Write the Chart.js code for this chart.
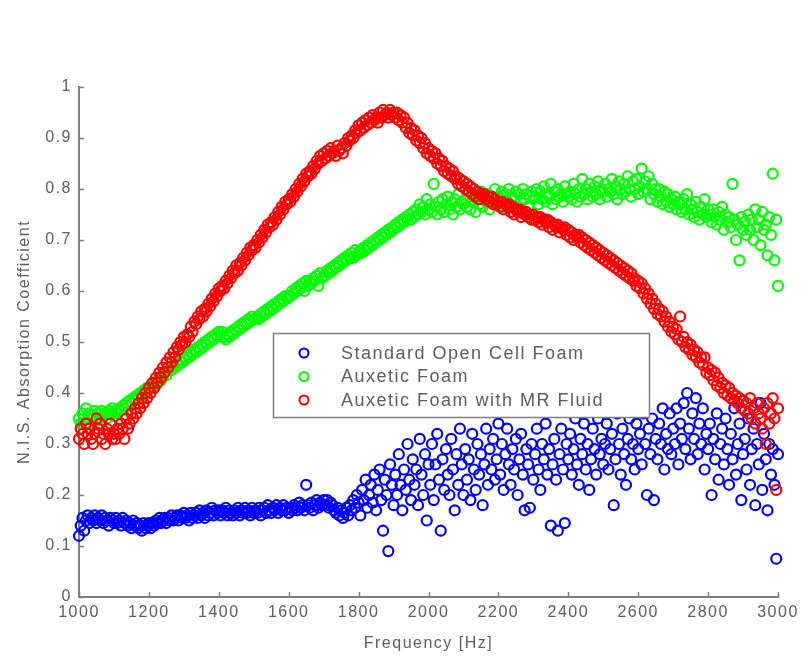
<!DOCTYPE html>
<html lang="en">
<head>
<meta charset="UTF-8" />
<title>N.I.S. Absorption Coefficient vs Frequency</title>
<script src="https://cdn.jsdelivr.net/npm/chart.js@4.4.1/dist/chart.umd.min.js"></script>
<style>
  html,body{margin:0;padding:0;background:#fff}
  #wrap{width:803px;height:657px}
</style>
</head>
<body>
<div id="wrap"><canvas id="chart" width="803" height="657"></canvas></div>
<script>
// frequency sampling (Hz) at 5 Hz spacing
const freq = [1000,
  1005,1010,1015,1020,1025,1030,1035,1040,1045,1050,1055,1060,1065,1070,1075,1080,1085,1090,1095,1100,
  1105,1110,1115,1120,1125,1130,1135,1140,1145,1150,1155,1160,1165,1170,1175,1180,1185,1190,1195,1200,
  1205,1210,1215,1220,1225,1230,1235,1240,1245,1250,1255,1260,1265,1270,1275,1280,1285,1290,1295,1300,
  1305,1310,1315,1320,1325,1330,1335,1340,1345,1350,1355,1360,1365,1370,1375,1380,1385,1390,1395,1400,
  1405,1410,1415,1420,1425,1430,1435,1440,1445,1450,1455,1460,1465,1470,1475,1480,1485,1490,1495,1500,
  1505,1510,1515,1520,1525,1530,1535,1540,1545,1550,1555,1560,1565,1570,1575,1580,1585,1590,1595,1600,
  1605,1610,1615,1620,1625,1630,1635,1640,1645,1650,1655,1660,1665,1670,1675,1680,1685,1690,1695,1700,
  1705,1710,1715,1720,1725,1730,1735,1740,1745,1750,1755,1760,1765,1770,1775,1780,1785,1790,1795,1800,
  1805,1810,1815,1820,1825,1830,1835,1840,1845,1850,1855,1860,1865,1870,1875,1880,1885,1890,1895,1900,
  1905,1910,1915,1920,1925,1930,1935,1940,1945,1950,1955,1960,1965,1970,1975,1980,1985,1990,1995,2000,
  2005,2010,2015,2020,2025,2030,2035,2040,2045,2050,2055,2060,2065,2070,2075,2080,2085,2090,2095,2100,
  2105,2110,2115,2120,2125,2130,2135,2140,2145,2150,2155,2160,2165,2170,2175,2180,2185,2190,2195,2200,
  2205,2210,2215,2220,2225,2230,2235,2240,2245,2250,2255,2260,2265,2270,2275,2280,2285,2290,2295,2300,
  2305,2310,2315,2320,2325,2330,2335,2340,2345,2350,2355,2360,2365,2370,2375,2380,2385,2390,2395,2400,
  2405,2410,2415,2420,2425,2430,2435,2440,2445,2450,2455,2460,2465,2470,2475,2480,2485,2490,2495,2500,
  2505,2510,2515,2520,2525,2530,2535,2540,2545,2550,2555,2560,2565,2570,2575,2580,2585,2590,2595,2600,
  2605,2610,2615,2620,2625,2630,2635,2640,2645,2650,2655,2660,2665,2670,2675,2680,2685,2690,2695,2700,
  2705,2710,2715,2720,2725,2730,2735,2740,2745,2750,2755,2760,2765,2770,2775,2780,2785,2790,2795,2800,
  2805,2810,2815,2820,2825,2830,2835,2840,2845,2850,2855,2860,2865,2870,2875,2880,2885,2890,2895,2900,
  2905,2910,2915,2920,2925,2930,2935,2940,2945,2950,2955,2960,2965,2970,2975,2980,2985,2990,2995,3000];

// Standard Open Cell Foam
const openCell = [0.12,
  0.14,0.155,0.13,0.15,0.16,0.145,0.155,0.15,0.16,0.145,0.155,0.15,0.16,0.145,0.155,0.15,0.14,0.155,0.15,0.145,
  0.155,0.145,0.15,0.14,0.155,0.145,0.15,0.14,0.145,0.135,0.15,0.14,0.145,0.135,0.14,0.13,0.145,0.135,0.14,0.145,
  0.135,0.145,0.14,0.15,0.145,0.155,0.145,0.15,0.155,0.145,0.155,0.15,0.16,0.15,0.155,0.16,0.15,0.16,0.155,0.165,
  0.155,0.16,0.15,0.165,0.155,0.16,0.165,0.155,0.17,0.16,0.165,0.155,0.17,0.16,0.165,0.175,0.16,0.17,0.165,0.17,
  0.16,0.17,0.165,0.175,0.16,0.17,0.165,0.16,0.17,0.165,0.175,0.16,0.17,0.165,0.175,0.165,0.17,0.16,0.175,0.165,
  0.17,0.165,0.175,0.16,0.17,0.175,0.165,0.18,0.17,0.165,0.175,0.17,0.18,0.165,0.175,0.17,0.18,0.17,0.175,0.165,
  0.175,0.17,0.18,0.175,0.17,0.185,0.175,0.18,0.17,0.22,0.18,0.175,0.185,0.17,0.18,0.19,0.175,0.185,0.18,0.19,
  0.18,0.19,0.175,0.185,0.18,0.17,0.165,0.175,0.16,0.17,0.155,0.165,0.175,0.16,0.18,0.17,0.19,0.175,0.20,0.185,
  0.16,0.21,0.19,0.23,0.175,0.20,0.22,0.185,0.24,0.17,0.21,0.25,0.19,0.13,0.23,0.20,0.09,0.26,0.22,0.18,
  0.24,0.20,0.28,0.22,0.17,0.25,0.21,0.30,0.23,0.19,0.27,0.22,0.25,0.18,0.31,0.24,0.20,0.28,0.15,0.26,
  0.22,0.30,0.19,0.26,0.32,0.23,0.13,0.27,0.21,0.29,0.24,0.20,0.31,0.25,0.17,0.28,0.22,0.33,0.26,0.20,
  0.29,0.23,0.27,0.19,0.32,0.25,0.21,0.30,0.24,0.28,0.18,0.26,0.33,0.22,0.29,0.25,0.31,0.23,0.27,0.34,
  0.24,0.30,0.21,0.28,0.33,0.26,0.22,0.29,0.25,0.31,0.20,0.27,0.32,0.24,0.17,0.29,0.26,0.175,0.30,0.23,
  0.28,0.33,0.25,0.21,0.30,0.27,0.34,0.24,0.29,0.14,0.26,0.31,0.23,0.13,0.28,0.33,0.25,0.145,0.30,0.27,
  0.32,0.24,0.29,0.35,0.26,0.22,0.31,0.28,0.34,0.25,0.30,0.21,0.27,0.33,0.29,0.24,0.35,0.28,0.31,0.26,
  0.30,0.34,0.25,0.29,0.32,0.18,0.27,0.36,0.30,0.24,0.33,0.28,0.22,0.31,0.35,0.27,0.30,0.25,0.34,0.29,
  0.32,0.26,0.36,0.30,0.20,0.33,0.28,0.35,0.19,0.31,0.27,0.34,0.30,0.37,0.25,0.32,0.29,0.36,0.28,0.33,
  0.30,0.37,0.26,0.34,0.31,0.38,0.29,0.40,0.33,0.27,0.36,0.31,0.39,0.28,0.34,0.30,0.37,0.25,0.32,0.29,
  0.34,0.20,0.31,0.27,0.36,0.23,0.30,0.33,0.26,0.35,0.29,0.22,0.32,0.27,0.37,0.24,0.30,0.34,0.19,0.28,
  0.31,0.25,0.35,0.22,0.29,0.33,0.18,0.30,0.26,0.38,0.21,0.32,0.27,0.17,0.30,0.24,0.29,0.22,0.075,0.28];

// Auxetic Foam
const auxetic = [0.35,
  0.34,0.36,0.35,0.37,0.34,0.36,0.355,0.35,0.365,0.345,0.36,0.35,0.365,0.355,0.36,0.35,0.365,0.36,0.37,0.355,
  0.365,0.36,0.37,0.365,0.375,0.37,0.38,0.375,0.385,0.38,0.39,0.385,0.395,0.39,0.40,0.395,0.405,0.40,0.41,0.405,
  0.415,0.41,0.42,0.415,0.425,0.43,0.425,0.435,0.44,0.435,0.445,0.45,0.445,0.455,0.45,0.46,0.455,0.465,0.46,0.47,
  0.465,0.475,0.47,0.48,0.475,0.485,0.48,0.49,0.485,0.495,0.49,0.50,0.495,0.505,0.50,0.51,0.505,0.515,0.51,0.52,
  0.515,0.52,0.51,0.505,0.515,0.51,0.52,0.515,0.525,0.52,0.53,0.525,0.535,0.53,0.54,0.535,0.545,0.54,0.55,0.545,
  0.545,0.55,0.545,0.555,0.55,0.56,0.555,0.565,0.56,0.57,0.565,0.575,0.57,0.58,0.575,0.585,0.58,0.59,0.585,0.59,
  0.59,0.60,0.595,0.605,0.60,0.61,0.605,0.615,0.60,0.62,0.61,0.62,0.615,0.625,0.62,0.63,0.61,0.635,0.625,0.63,
  0.63,0.64,0.635,0.645,0.64,0.65,0.645,0.655,0.65,0.66,0.655,0.665,0.66,0.67,0.665,0.675,0.665,0.68,0.67,0.675,
  0.68,0.675,0.685,0.68,0.69,0.685,0.695,0.69,0.70,0.695,0.705,0.70,0.71,0.705,0.715,0.71,0.72,0.715,0.725,0.72,
  0.73,0.725,0.735,0.73,0.74,0.735,0.745,0.74,0.75,0.74,0.755,0.745,0.76,0.75,0.77,0.755,0.765,0.75,0.78,0.76,
  0.77,0.755,0.81,0.765,0.75,0.775,0.76,0.78,0.755,0.77,0.785,0.76,0.775,0.75,0.78,0.765,0.79,0.76,0.775,0.77,
  0.78,0.765,0.795,0.76,0.775,0.785,0.755,0.78,0.77,0.795,0.765,0.78,0.775,0.79,0.76,0.785,0.775,0.80,0.77,0.785,
  0.78,0.795,0.765,0.79,0.775,0.80,0.77,0.785,0.78,0.795,0.76,0.79,0.775,0.80,0.78,0.79,0.765,0.785,0.795,0.78,
  0.785,0.80,0.77,0.795,0.78,0.805,0.775,0.79,0.785,0.81,0.77,0.795,0.78,0.80,0.785,0.79,0.775,0.805,0.79,0.785,
  0.795,0.78,0.81,0.79,0.775,0.80,0.785,0.82,0.79,0.80,0.78,0.81,0.795,0.785,0.805,0.79,0.815,0.78,0.80,0.795,
  0.81,0.785,0.80,0.795,0.82,0.79,0.805,0.78,0.815,0.80,0.79,0.81,0.795,0.825,0.80,0.785,0.815,0.80,0.82,0.79,
  0.805,0.84,0.795,0.815,0.80,0.825,0.78,0.81,0.79,0.80,0.775,0.80,0.785,0.77,0.795,0.775,0.79,0.765,0.78,0.77,
  0.785,0.76,0.775,0.77,0.755,0.78,0.76,0.79,0.75,0.77,0.76,0.745,0.775,0.755,0.74,0.765,0.75,0.78,0.745,0.76,
  0.75,0.735,0.76,0.745,0.73,0.755,0.74,0.765,0.72,0.75,0.735,0.745,0.725,0.81,0.74,0.70,0.73,0.66,0.745,0.72,
  0.735,0.71,0.75,0.72,0.74,0.70,0.76,0.725,0.74,0.69,0.755,0.72,0.73,0.67,0.745,0.71,0.83,0.66,0.74,0.61];

// Auxetic Foam with MR Fluid
const auxeticMR = [0.31,
  0.33,0.32,0.30,0.34,0.32,0.33,0.31,0.30,0.32,0.35,0.33,0.34,0.31,0.32,0.30,0.33,0.32,0.34,0.31,0.32,
  0.31,0.33,0.32,0.34,0.33,0.31,0.35,0.33,0.34,0.36,0.35,0.37,0.36,0.38,0.37,0.39,0.38,0.40,0.39,0.41,
  0.40,0.42,0.41,0.43,0.42,0.44,0.43,0.45,0.44,0.46,0.45,0.47,0.46,0.48,0.47,0.49,0.485,0.50,0.495,0.51,
  0.50,0.515,0.51,0.53,0.52,0.54,0.535,0.55,0.545,0.56,0.55,0.565,0.56,0.575,0.57,0.585,0.58,0.595,0.59,0.605,
  0.60,0.61,0.605,0.62,0.615,0.63,0.625,0.64,0.635,0.65,0.64,0.655,0.65,0.665,0.66,0.675,0.67,0.685,0.68,0.69,
  0.685,0.70,0.695,0.71,0.705,0.72,0.715,0.73,0.725,0.735,0.73,0.745,0.74,0.755,0.75,0.765,0.76,0.775,0.77,0.78,
  0.775,0.79,0.785,0.80,0.795,0.81,0.805,0.82,0.815,0.83,0.825,0.835,0.83,0.845,0.84,0.855,0.85,0.865,0.855,0.87,
  0.86,0.875,0.865,0.88,0.87,0.875,0.865,0.885,0.875,0.88,0.87,0.89,0.885,0.90,0.895,0.905,0.90,0.915,0.91,0.925,
  0.915,0.93,0.92,0.935,0.925,0.94,0.93,0.945,0.935,0.94,0.93,0.95,0.94,0.955,0.945,0.95,0.94,0.955,0.945,0.95,
  0.94,0.95,0.935,0.945,0.93,0.94,0.92,0.93,0.91,0.92,0.905,0.915,0.895,0.905,0.89,0.90,0.88,0.89,0.87,0.88,
  0.865,0.875,0.86,0.87,0.85,0.86,0.845,0.855,0.835,0.845,0.83,0.84,0.825,0.835,0.82,0.825,0.81,0.82,0.805,0.815,
  0.80,0.81,0.795,0.805,0.79,0.80,0.785,0.795,0.78,0.79,0.785,0.79,0.78,0.785,0.775,0.785,0.77,0.78,0.77,0.775,
  0.765,0.775,0.76,0.77,0.765,0.77,0.755,0.765,0.75,0.76,0.755,0.76,0.745,0.755,0.75,0.755,0.745,0.75,0.74,0.75,
  0.74,0.745,0.735,0.745,0.73,0.74,0.735,0.74,0.725,0.735,0.72,0.73,0.725,0.73,0.715,0.725,0.72,0.725,0.71,0.72,
  0.705,0.715,0.70,0.71,0.705,0.71,0.695,0.705,0.69,0.70,0.685,0.695,0.68,0.69,0.675,0.685,0.67,0.68,0.665,0.675,
  0.66,0.67,0.655,0.665,0.65,0.66,0.645,0.655,0.64,0.65,0.635,0.645,0.63,0.64,0.625,0.635,0.62,0.625,0.61,0.62,
  0.605,0.615,0.595,0.605,0.585,0.595,0.575,0.585,0.565,0.575,0.555,0.565,0.55,0.56,0.54,0.55,0.53,0.54,0.52,0.53,
  0.515,0.525,0.505,0.55,0.50,0.51,0.49,0.50,0.485,0.495,0.475,0.485,0.47,0.48,0.46,0.47,0.455,0.47,0.44,0.45,
  0.435,0.445,0.425,0.44,0.415,0.43,0.41,0.42,0.40,0.415,0.395,0.41,0.39,0.40,0.385,0.395,0.38,0.39,0.37,0.385,
  0.365,0.38,0.36,0.39,0.35,0.37,0.34,0.38,0.36,0.35,0.33,0.37,0.30,0.38,0.34,0.36,0.39,0.35,0.21,0.37];

const seriesLabels = ['Standard Open Cell Foam', 'Auxetic Foam', 'Auxetic Foam with MR Fluid'];
const seriesColors = ['#0000ff', '#00ff00', '#ff0000'];
const xTicks = [1000, 1200, 1400, 1600, 1800, 2000, 2200, 2400, 2600, 2800, 3000];
const yTicks = [0, 0.1, 0.2, 0.3, 0.4, 0.5, 0.6, 0.7, 0.8, 0.9, 1];

const AXIS = '#7f7f7f';
const TEXT = '#5e5e5e';
const FONT = "'Liberation Sans', Arial, sans-serif";

function points(ys) {
  const n = Math.min(freq.length, ys.length);
  const out = [];
  for (let i = 0; i < n; i++) out.push({ x: freq[i], y: ys[i] });
  return out;
}

// wider text like the source image
const spacing = {
  id: 'spacing',
  beforeDraw(chart) { chart.ctx.letterSpacing = '1.5px'; }
};

// matlab style ticks pointing into the plot
const innerTicks = {
  id: 'innerTicks',
  beforeDatasetsDraw(chart) {
    const { ctx, chartArea: a, scales: { x, y } } = chart;
    ctx.save();
    ctx.strokeStyle = AXIS;
    ctx.lineWidth = 1.5;
    ctx.beginPath();
    for (const v of xTicks) {
      const px = Math.round(x.getPixelForValue(v)) + 0.5;
      ctx.moveTo(px, a.bottom); ctx.lineTo(px, a.bottom - 5);
    }
    for (const v of yTicks) {
      const py = Math.round(y.getPixelForValue(v)) + 0.5;
      ctx.moveTo(a.left, py); ctx.lineTo(a.left + 5, py);
    }
    ctx.stroke();
    ctx.restore();
  }
};

const boxLegend = {
  id: 'boxLegend',
  afterDraw(chart) {
    const ctx = chart.ctx;
    const L = 273, T = 333, W = 376, H = 84;
    ctx.save();
    ctx.fillStyle = '#fff';
    ctx.fillRect(L, T, W, H);
    ctx.strokeStyle = AXIS;
    ctx.lineWidth = 1.5;
    ctx.strokeRect(L + 0.5, T + 0.5, W, H);
    ctx.font = `18px ${FONT}`;
    ctx.letterSpacing = '1.5px';
    ctx.textBaseline = 'middle';
    ctx.textAlign = 'left';
    seriesLabels.forEach((lab, i) => {
      const cy = T + 20 + i * 23.5;
      ctx.beginPath();
      ctx.arc(L + 31, cy, 4.5, 0, Math.PI * 2);
      ctx.strokeStyle = seriesColors[i];
      ctx.lineWidth = 2;
      ctx.stroke();
      ctx.fillStyle = TEXT;
      ctx.fillText(lab, L + 68, cy + 1);
    });
    ctx.restore();
  }
};

const orders = [3, 2, 1];
const datasets = [openCell, auxetic, auxeticMR].map((ys, i) => ({
  label: seriesLabels[i],
  data: points(ys),
  borderColor: seriesColors[i],
  backgroundColor: 'rgba(0,0,0,0)',
  pointStyle: 'circle',
  pointRadius: 5,
  pointBorderWidth: 2.2,
  showLine: false,
  clip: false,
  order: orders[i]
}));

new Chart(document.getElementById('chart'), {
  type: 'scatter',
  data: { datasets },
  options: {
    responsive: false,
    animation: false,
    devicePixelRatio: 1,
    events: [],
    layout: { padding: { top: 87, right: 25, left: 0, bottom: 0 } },
    plugins: { legend: { display: false }, tooltip: { enabled: false } },
    scales: {
      x: {
        type: 'linear', min: 1000, max: 3000,
        grid: { display: false, drawTicks: false },
        border: { display: true, color: AXIS, width: 2 },
        afterBuildTicks: s => { s.ticks = xTicks.map(v => ({ value: v })); },
        afterFit: s => { s.height = 60; },
        ticks: { color: TEXT, font: { family: FONT, size: 16 }, padding: 6, maxRotation: 0, autoSkip: false,
                 callback: v => String(v) },
        title: { display: true, text: 'Frequency [Hz]', color: TEXT, font: { family: FONT, size: 16 },
                 padding: { top: 0, bottom: 4 } }
      },
      y: {
        type: 'linear', min: 0, max: 1,
        grid: { display: false, drawTicks: false },
        border: { display: true, color: AXIS, width: 2 },
        afterBuildTicks: s => { s.ticks = yTicks.map(v => ({ value: v })); },
        afterFit: s => { s.width = 79; },
        ticks: { color: TEXT, font: { family: FONT, size: 16 }, padding: 7, autoSkip: false,
                 callback: v => (v === 0 || v === 1) ? String(v) : v.toFixed(1) },
        title: { display: true, text: 'N.I.S. Absorption Coefficient', color: TEXT,
                 font: { family: FONT, size: 16 }, padding: { top: 15, bottom: 0 } }
      }
    }
  },
  plugins: [spacing, innerTicks, boxLegend]
});
</script>
</body>
</html>
